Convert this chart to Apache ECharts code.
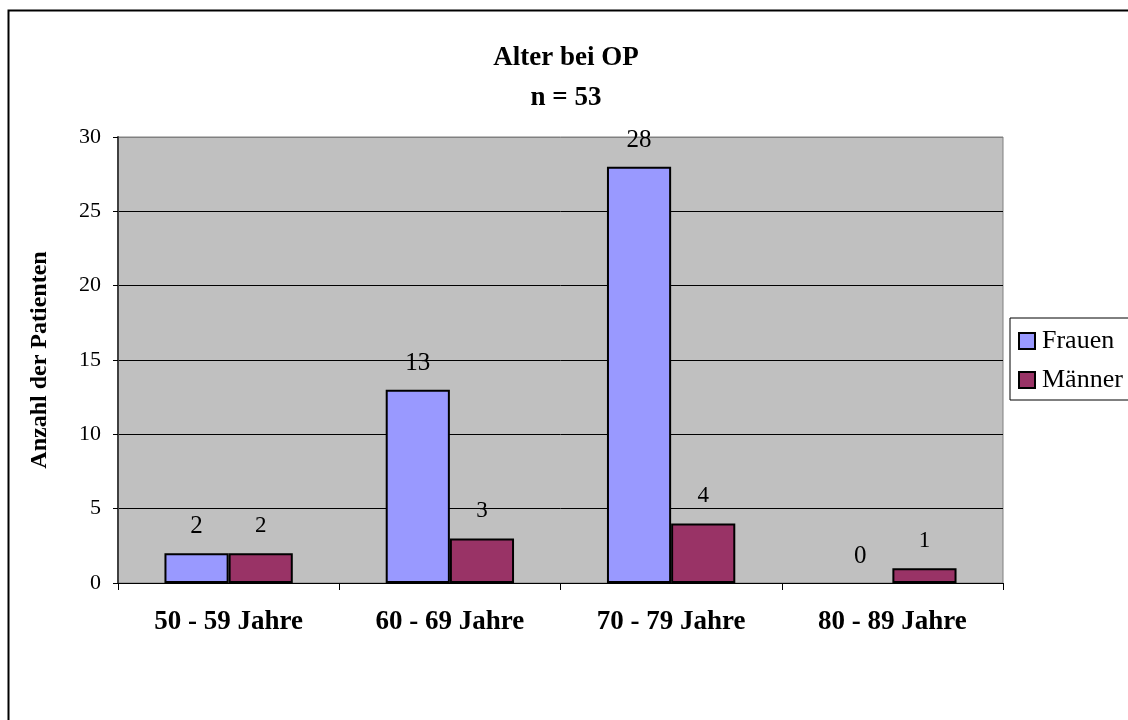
<!DOCTYPE html>
<html lang="de">
  <head>
    <meta charset="UTF-8" />
    <title>Alter bei OP</title>
    <script src="https://cdn.jsdelivr.net/npm/echarts@6/dist/echarts.min.js"></script>
    <style>
      html, body { margin: 0; padding: 0; background: #fff; }
    </style>
  </head>
  <body>
    <div id="chart" style="width: 1128px; height: 720px"></div>
    <script>
      const categories = ['50 - 59 Jahre', '60 - 69 Jahre', '70 - 79 Jahre', '80 - 89 Jahre'];
      const frauen = [2, 13, 28, 0];
      const maenner = [2, 3, 4, 1];
      const yTicks = [0, 5, 10, 15, 20, 25, 30];

      const serif = 'Liberation Serif';
      let myCharts = echarts.init(document.getElementById('chart'));

      // grid lines are black, the top one (plot border) is gray
      let gridColors = yTicks.map((v, i) => (i === yTicks.length - 1 ? '#808080' : '#000'));

      // a zero bar gets no outline
      function barData(values) {
        return values.map((v) => (v === 0 ? { value: v, itemStyle: { borderWidth: 0 } } : v));
      }

      let option = {
        backgroundColor: '#fff',
        animation: false,
        title: {
          text: 'Alter bei OP\nn = 53',
          left: 561,
          textAlign: 'center',
          top: 33,
          textStyle: {
            fontFamily: serif,
            fontWeight: 'bold',
            fontSize: 27,
            lineHeight: 40,
            color: '#000',
          },
        },
        legend: {
          orient: 'vertical',
          left: 1010,
          top: 318,
          padding: [10, 40, 7, 8],
          icon: 'rect',
          itemWidth: 16,
          itemHeight: 16,
          itemGap: 13,
          backgroundColor: '#fff',
          borderColor: '#000',
          borderWidth: 1,
          textStyle: { fontFamily: serif, fontSize: 26, color: '#000', padding: [0, 0, 0, 2] },
          data: [
            { name: 'Frauen', itemStyle: { borderColor: '#000', borderWidth: 2 } },
            { name: 'Männer', itemStyle: { borderColor: '#000', borderWidth: 2 } },
          ],
        },
        grid: {
          left: 118,
          right: 125,
          top: 137,
          bottom: 137,
          show: true,
          backgroundColor: '#C0C0C0',
          borderColor: '#808080',
          borderWidth: 1,
        },
        xAxis: {
          type: 'category',
          data: categories,
          axisLine: { lineStyle: { color: '#000', width: 1 } },
          axisTick: { show: true, length: 7, lineStyle: { color: '#000' } },
          axisLabel: {
            margin: 26,
            fontFamily: serif,
            fontWeight: 'bold',
            fontSize: 27,
            color: '#000',
          },
        },
        yAxis: {
          type: 'value',
          min: yTicks[0],
          max: yTicks[yTicks.length - 1],
          interval: yTicks[1] - yTicks[0],
          name: 'Anzahl der Patienten',
          nameLocation: 'middle',
          nameGap: 66,
          nameTextStyle: {
            fontFamily: serif,
            fontWeight: 'bold',
            fontSize: 24,
            color: '#000',
          },
          axisLine: { show: true, lineStyle: { color: '#404040', width: 2 } },
          axisTick: { show: true, length: 5, lineStyle: { color: '#000' } },
          axisLabel: {
            margin: 17,
            fontFamily: serif,
            fontSize: 22,
            color: '#000',
          },
          splitLine: { show: true, lineStyle: { color: gridColors, width: 1 } },
        },
        series: [
          {
            name: 'Frauen',
            type: 'bar',
            data: barData(frauen),
            barGap: '0%',
            barCategoryGap: '42%',
            itemStyle: { color: '#9999FF', borderColor: '#000', borderWidth: 2 },
            label: {
              show: true,
              position: 'top',
              distance: 14,
              fontFamily: serif,
              fontSize: 25,
              color: '#000',
            },
          },
          {
            name: 'Männer',
            type: 'bar',
            data: barData(maenner),
            itemStyle: { color: '#993366', borderColor: '#000', borderWidth: 2 },
            label: {
              show: true,
              position: 'top',
              distance: 16,
              fontFamily: serif,
              fontSize: 23,
              color: '#000',
            },
          },
        ],
        graphic: [
          {
            type: 'rect',
            silent: true,
            z: 100,
            shape: { x: 8.5, y: 10.5, width: 1140, height: 740 },
            style: { fill: 'none', stroke: '#000', lineWidth: 2 },
          },
        ],
      };

      myCharts.setOption(option);
    </script>
  </body>
</html>
